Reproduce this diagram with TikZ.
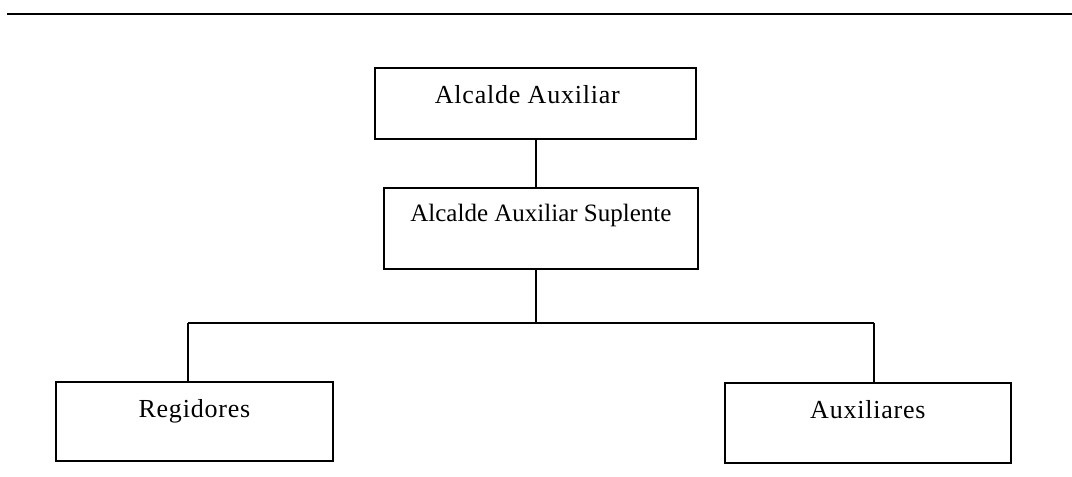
\documentclass[tikz,border=0pt]{standalone}
\usepackage{fontspec}
\setmainfont{Liberation Serif}
\begin{document}
\begin{tikzpicture}[x=1pt,y=-1pt,
  orgbox/.style={draw=black, line width=1.8pt, rectangle, inner xsep=0pt, inner ysep=0pt, anchor=north west,
    font=\fontsize{26}{30}\selectfont\addfontfeatures{LetterSpace=3}},
  plainbox/.style={orgbox, font=\fontsize{25}{30}\selectfont},
  conn/.style={draw=black, line width=1.4pt},
  rule/.style={draw=black, line width=2pt}]
\useasboundingbox (0,0) rectangle (1072,477);
% top rule
\coordinate (rl) at (7,14);
\coordinate (rr) at (1072,14);
\draw[rule] (rl) -- (rr);
% boxes
\node[orgbox, minimum width=321pt, text height=36pt, text depth=35pt] (top) at (374,67) {\hspace*{-16pt}Alcalde Auxiliar};
\node[plainbox, minimum width=314pt, text height=34pt, text depth=47pt] (sub) at (383,187) {Alcalde Auxiliar Suplente};
\node[orgbox, minimum width=277pt, text height=36pt, text depth=43pt] (reg) at (55,381) {Regidores};
\node[orgbox, minimum width=286pt, text height=36pt, text depth=44pt] (aux) at (724,382) {Auxiliares};
% junctions
\coordinate (j) at (536,323);
\coordinate (jl) at (188,323);
\coordinate (jr) at (874,323);
% connectors
\draw[conn] (top.south -| j) -- (sub.north -| j);
\draw[conn] (sub.south -| j) -- (j);
\draw[conn] (jl) -- (jr);
\draw[conn] (jl) -- (reg.north -| jl);
\draw[conn] (jr) -- (aux.north -| jr);
\end{tikzpicture}
\end{document}
